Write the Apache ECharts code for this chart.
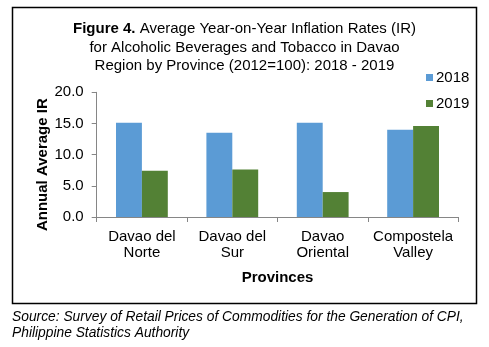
<!DOCTYPE html>
<html>
<head>
<meta charset="utf-8">
<script src="https://cdn.jsdelivr.net/npm/echarts@6/dist/echarts.min.js"></script>
<style>
html,body{margin:0;padding:0;background:#fff;}
#chart{width:489px;height:347px;}
</style>
</head>
<body>
<div id="chart"></div>
<script>
var categories = ['Davao del\nNorte', 'Davao del\nSur', 'Davao\nOriental', 'Compostela\nValley'];
var series2018 = [15.1, 13.5, 15.1, 14.0];
var series2019 = [7.4, 7.6, 4.0, 14.6];
var yTicks = [0, 5, 10, 15, 20];
var seriesNames = ['2018', '2019'];

var FONT = 'Liberation Sans, Arial, sans-serif';
var chart = echarts.init(document.getElementById('chart'), null, {renderer: 'canvas'});
chart.setOption({
  backgroundColor: '#fff',
  animation: false,
  title: {
    text: '{b|Figure 4.} Average Year-on-Year Inflation Rates (IR)\nfor Alcoholic Beverages and Tobacco in Davao\nRegion by Province (2012=100): 2018 - 2019',
    left: 'center',
    top: 15,
    textStyle: {
      fontFamily: FONT, fontSize: 15, fontWeight: 'normal', color: '#000', lineHeight: 18.5,
      rich: { b: { fontFamily: FONT, fontSize: 15, fontWeight: 'bold', color: '#000', lineHeight: 18.5 } }
    }
  },
  legend: {
    data: seriesNames,
    orient: 'vertical',
    left: 421,
    top: 65,
    itemWidth: 7,
    itemHeight: 7,
    itemGap: 11,
    icon: 'rect',
    textStyle: { fontFamily: FONT, fontSize: 15, color: '#000', padding: [0, 0, 0, -2] }
  },
  grid: { left: 96.7, right: 30.7, top: 92.3, bottom: 130, containLabel: false },
  xAxis: {
    type: 'category',
    data: categories,
    name: 'Provinces',
    nameLocation: 'middle',
    nameGap: 53,
    nameMoveOverlap: false,
    nameTextStyle: { fontFamily: FONT, fontSize: 15, fontWeight: 'bold', color: '#000' },
    axisLine: { lineStyle: { color: '#868686', width: 1 } },
    axisTick: { show: true, length: 5, lineStyle: { color: '#868686' } },
    axisLabel: { fontFamily: FONT, fontSize: 15, color: '#000', lineHeight: 16, margin: 12, interval: 0 }
  },
  yAxis: {
    type: 'value',
    min: yTicks[0],
    max: yTicks[yTicks.length - 1],
    interval: 5,
    name: 'Annual Average IR',
    nameLocation: 'middle',
    nameGap: 46,
    nameMoveOverlap: false,
    nameTextStyle: { fontFamily: FONT, fontSize: 15, fontWeight: 'bold', color: '#000', padding: [0, 20, 0, 0] },
    splitLine: { show: false },
    axisLine: { show: true, lineStyle: { color: '#868686', width: 1 } },
    axisTick: { show: true, length: 5, lineStyle: { color: '#868686' } },
    axisLabel: { fontFamily: FONT, fontSize: 15, color: '#000', margin: 13,
      formatter: function (v) { return v.toFixed(1); } }
  },
  series: [
    { name: seriesNames[0], type: 'bar', data: series2018, barGap: '0%', barCategoryGap: '42.7%',
      itemStyle: { color: '#5B9BD5' } },
    { name: seriesNames[1], type: 'bar', data: series2019, barGap: '0%', barCategoryGap: '42.7%',
      itemStyle: { color: '#538135' } }
  ],
  graphic: [
    { type: 'rect', shape: { x: 12.5, y: 7.5, width: 464, height: 296 },
      style: { fill: 'none', stroke: '#000', lineWidth: 1.5 }, z: 100 },
    { type: 'text', left: 12, top: 309,
      style: { text: 'Source: Survey of Retail Prices of Commodities for the Generation of CPI,\nPhilippine Statistics Authority',
        fontFamily: FONT, fontSize: 13.8, fontStyle: 'italic', fill: '#000', lineHeight: 16 } }
  ]
});
</script>
</body>
</html>
